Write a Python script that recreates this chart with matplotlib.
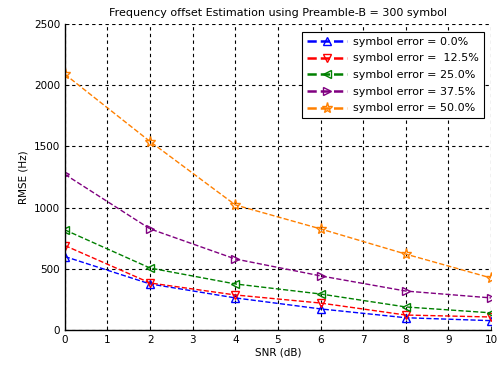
import matplotlib
matplotlib.use("Agg")
import matplotlib.pyplot as plt

snr_db = [0, 2, 4, 6, 8, 10]
rmse_err_0 = [600, 376, 262, 172, 100, 76]
rmse_err_125 = [690, 384, 286, 220, 122, 106]
rmse_err_25 = [818, 506, 376, 294, 188, 140]
rmse_err_375 = [1272, 826, 580, 442, 318, 262]
rmse_err_50 = [2090, 1540, 1022, 826, 620, 425]

labels = [
    "symbol error = 0.0%",
    "symbol error =  12.5%",
    "symbol error = 25.0%",
    "symbol error = 37.5%",
    "symbol error = 50.0%",
]
colors = ["#0000ff", "#ff0000", "#008000", "#800080", "#ff8000"]
markers = ["^", "v", "<", ">", "*"]
series = [rmse_err_0, rmse_err_125, rmse_err_25, rmse_err_375, rmse_err_50]

plt.rcParams["font.family"] = ["DejaVu Sans"]

fig = plt.figure(figsize=(4.99, 3.65), dpi=100)
ax = fig.add_axes([0.130, 0.096, 0.854, 0.838])

for values, label, color, marker in zip(series, labels, colors, markers):
    ax.plot(
        snr_db,
        values,
        linestyle="--",
        linewidth=1.0,
        color=color,
        marker=marker,
        markersize=8 if marker == "*" else 6,
        markerfacecolor="none",
        markeredgecolor=color,
        markeredgewidth=1.0,
        label=label,
    )

ax.set_xlim(0, 10)
ax.set_ylim(0, 2500)
ax.set_xticks(range(0, 11))
ax.set_yticks(range(0, 2501, 500))
ax.tick_params(labelsize=7.5, direction="in", length=3, width=0.6)
ax.grid(True, color="black", linestyle=(0, (3, 3)), linewidth=0.8)
ax.spines["top"].set_visible(False)
ax.spines["right"].set_visible(False)
ax.spines["left"].set_linewidth(1.0)
ax.spines["bottom"].set_linewidth(1.0)

ax.set_title("Frequency offset Estimation using Preamble-B = 300 symbol", fontsize=8, pad=6)
ax.set_xlabel("SNR (dB)", fontsize=7.5, labelpad=2)
ax.set_ylabel("RMSE (Hz)", fontsize=7.5, labelpad=4)

leg = ax.legend(
    loc="upper right",
    bbox_to_anchor=(0.984, 0.975),
    borderaxespad=0,
    fontsize=8,
    fancybox=False,
    framealpha=1,
    edgecolor="black",
    handlelength=3.6,
    handletextpad=0.6,
    borderpad=0.45,
    labelspacing=0.6,
)
leg.get_frame().set_linewidth(0.8)
for line in leg.get_lines():
    line.set_linewidth(1.8)

fig.savefig("out.png", dpi=100)
